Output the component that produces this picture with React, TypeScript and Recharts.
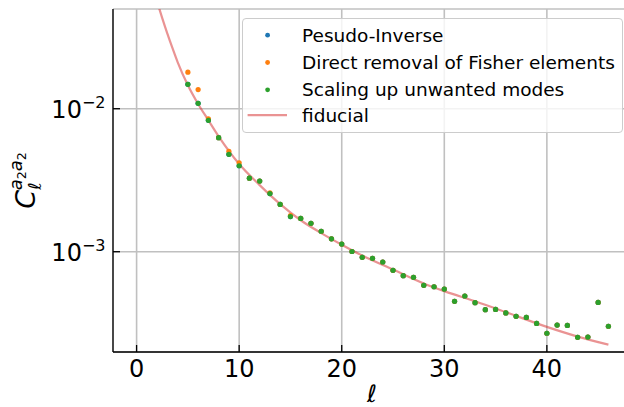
import React from 'react';
import { ComposedChart, Scatter, Line, XAxis, YAxis, CartesianGrid, Legend } from 'recharts';

const FONT = "'DejaVu Sans', sans-serif";

const ell = [5, 6, 7, 8, 9, 10, 11, 12, 13, 14, 15, 16, 17, 18, 19, 20, 21, 22, 23, 24, 25,
  26, 27, 28, 29, 30, 31, 32, 33, 34, 35, 36, 37, 38, 39, 40, 41, 42, 43, 44, 45, 46];

const scalingUp = [0.01482, 0.01091, 0.0083, 0.00627, 0.0048, 0.00399, 0.00327, 0.00312, 0.00255,
  0.00214, 0.00176, 0.00171, 0.00158, 0.00139, 0.00123, 0.00113, 0.001003, 0.000914, 0.000899,
  0.000847, 0.000741, 0.00068, 0.000662, 0.000582, 0.000569, 0.000548, 0.00045, 0.00049, 0.00044,
  0.000393, 0.000395, 0.000373, 0.000353, 0.000347, 0.000315, 0.000269, 0.000307, 0.000305,
  0.000252, 0.000253, 0.000442, 0.000301];

const pseudoInverse = [0.01482, 0.01091, 0.0083, 0.00627, 0.0048, 0.00399, 0.00327, 0.00312, 0.00255,
  0.00214, 0.00176, 0.00171, 0.00158, 0.00139, 0.00123, 0.00113, 0.001003, 0.000914, 0.000899,
  0.000847, 0.000741, 0.00068, 0.000662, 0.000582, 0.000569, 0.000548, 0.00045, 0.00049, 0.00044,
  0.000393, 0.000395, 0.000373, 0.000353, 0.000347, 0.000315, 0.000269, 0.000307, 0.000305,
  0.000252, 0.000253, 0.000442, 0.000301];

const directRemoval = [0.018, 0.0136, 0.00851, 0.00627, 0.00504, 0.00419, 0.00327, 0.00312, 0.00258,
  0.00214, 0.00179, 0.00171, 0.00158, 0.00139, 0.00123, 0.00113, 0.001003, 0.000914, 0.000899,
  0.000847, 0.000741, 0.00068, 0.000662, 0.000582, 0.000569, 0.000548, 0.00045, 0.00049, 0.00044,
  0.000393, 0.000395, 0.000373, 0.000353, 0.000347, 0.000315, 0.000269, 0.000307, 0.000305,
  0.000252, 0.000253, 0.000442, 0.000301];

const fiducialEll = [2, 2.5, 3, 3.5, 4, 5, 6, 7, 8, 10, 12, 14, 16, 18, 20, 22, 25, 28, 30, 33, 36, 40, 43, 46];
const fiducialCl = [0.056, 0.043, 0.0335, 0.0265, 0.0212, 0.0146, 0.0108, 0.0083, 0.0064, 0.0041,
  0.00292, 0.00215, 0.00166, 0.00135, 0.00112, 0.00094, 0.00075, 0.0006, 0.00053, 0.00045,
  0.000378, 0.000298, 0.000255, 0.000224];

const xTicks = [0, 10, 20, 30, 40];
const xDomain = [-2.3, 48.3];
const yMajorTicks = [0.001, 0.01];
const yMinorTicks = [0.0002, 0.0003, 0.0004, 0.0005, 0.0006, 0.0007, 0.0008, 0.0009,
  0.002, 0.003, 0.004, 0.005, 0.006, 0.007, 0.008, 0.009, 0.02, 0.03, 0.04];
const yDomain = [0.0001989, 0.04981];

const seriesNames = ['Pesudo-Inverse', 'Direct removal of Fisher elements', 'Scaling up unwanted modes', 'fiducial'];
const colors = ['#1f77b4', '#ff7f0e', '#2ca02c', '#d62728'];

const toPoints = (xs: number[], ys: number[]) => xs.map((x, i) => ({ x, y: ys[i] }));

const dot = (color: string) => (props: any) => (
  <circle cx={props.cx} cy={props.cy} r={2.6} fill={color} />
);

const XTick = (props: any) => {
  const { x, y, payload } = props;
  return (
    <text x={x} y={y} textAnchor="middle" fontFamily={FONT} fontSize={24} fill="#000">
      {payload.value}
    </text>
  );
};

const YTick = (props: any) => {
  const { x, y, payload } = props;
  const e = Math.round(Math.log10(payload.value));
  return (
    <text x={x} y={y} dy={9.5} textAnchor="end" fontFamily={FONT} fontSize={24} fill="#000">
      <tspan>10</tspan>
      <tspan fontSize={16} dy={-10}>{'\u2212' + Math.abs(e)}</tspan>
    </text>
  );
};

const Empty = () => <g />;

const YLabel = () => (
  <text transform="translate(35,180.5) rotate(-90)" textAnchor="middle" fontFamily={FONT} fill="#000">
    <tspan fontSize={27} fontStyle="italic">C</tspan>
    <tspan fontSize={18} fontStyle="italic" dy={6}>{'\u2113'}</tspan>
    <tspan fontSize={18} fontStyle="italic" dx={-8} dy={-19}>a</tspan>
    <tspan fontSize={12.5} dy={3.5}>2</tspan>
    <tspan fontSize={18} fontStyle="italic" dy={-3.5}>a</tspan>
    <tspan fontSize={12.5} dy={3.5}>2</tspan>
  </text>
);

const XLabel = () => (
  <text x={372} y={402} textAnchor="middle" fontFamily={FONT} fontSize={24} fontStyle="italic" fill="#000">
    {'\u2113'}
  </text>
);

const LegendBox = () => {
  const rows = [17.2, 44.5, 71.8, 97.2];
  return (
    <div style={{
      width: 381, height: 115, boxSizing: 'border-box', border: '1px solid #cccccc',
      borderRadius: 4, background: 'rgba(255,255,255,0.8)',
    }}>
      <svg width={381} height={115} style={{ position: 'absolute', left: 0, top: 0 }}>
        {rows.map((ry, i) => (
          <g key={i}>
            {i < 3 ? (
              <circle cx={25.6} cy={ry} r={2.4} fill={colors[i]} />
            ) : (
              <line x1={5.6} x2={45} y1={ry} y2={ry} stroke={colors[3]} strokeOpacity={0.5} strokeWidth={2.2} />
            )}
            <text x={60} y={ry + 6.5} fontFamily={FONT} fontSize={18.5} fill="#000">{seriesNames[i]}</text>
          </g>
        ))}
      </svg>
    </div>
  );
};

export default function App() {
  return (
    <div style={{ position: 'absolute', left: 0, top: 0, width: 624, height: 407, overflow: 'hidden', background: '#fff' }}>
      <ComposedChart width={660} height={407} margin={{ top: 9, right: 28, bottom: 0, left: 0 }}>
        <CartesianGrid xAxisId="b" yAxisId="m" stroke="#c0c0c0" strokeWidth={1.6} />
        <XAxis xAxisId="b" dataKey="x" type="number" domain={xDomain} ticks={xTicks} interval={0}
          allowDataOverflow height={55} tickSize={-7} tickMargin={31.7}
          axisLine={{ stroke: '#000', strokeWidth: 1.3 }} tickLine={{ stroke: '#000', strokeWidth: 1.3 }}
          tick={<XTick />} label={{ content: () => <XLabel /> }} />
        <XAxis xAxisId="t" orientation="top" dataKey="x" type="number" domain={xDomain} ticks={xTicks} interval={0}
          allowDataOverflow height={0} tickSize={-7}
          axisLine={{ stroke: '#000', strokeWidth: 1.3 }} tickLine={{ stroke: '#000', strokeWidth: 1.3 }}
          tick={<Empty />} />
        <YAxis yAxisId="m" scale="log" type="number" domain={yDomain} ticks={yMajorTicks} interval={0}
          allowDataOverflow width={113} tickSize={-7} tickMargin={14.5}
          axisLine={{ stroke: '#000', strokeWidth: 1.3 }} tickLine={{ stroke: '#000', strokeWidth: 1.3 }}
          tick={<YTick />} label={{ content: () => <YLabel /> }} />
        <YAxis yAxisId="n" scale="log" type="number" domain={yDomain} ticks={yMinorTicks} interval={0}
          allowDataOverflow width={0} tickSize={-7} axisLine={false}
          tickLine={{ stroke: '#000', strokeWidth: 1.1 }} tick={<Empty />} />
        <Scatter xAxisId="b" yAxisId="m" data={toPoints(ell, pseudoInverse)} dataKey="y" name={seriesNames[0]}
          fill={colors[0]} shape={dot(colors[0])} isAnimationActive={false} />
        <Scatter xAxisId="b" yAxisId="m" data={toPoints(ell, directRemoval)} dataKey="y" name={seriesNames[1]}
          fill={colors[1]} shape={dot(colors[1])} isAnimationActive={false} />
        <Scatter xAxisId="b" yAxisId="m" data={toPoints(ell, scalingUp)} dataKey="y" name={seriesNames[2]}
          fill={colors[2]} shape={dot(colors[2])} isAnimationActive={false} />
        <Line xAxisId="b" yAxisId="m" data={toPoints(fiducialEll, fiducialCl)} dataKey="y" name={seriesNames[3]}
          type="monotone" stroke={colors[3]} strokeOpacity={0.5} strokeWidth={2.2} dot={false}
          activeDot={false} isAnimationActive={false} />
        <Legend layout="vertical" align="center" verticalAlign="middle" content={() => <LegendBox />}
          wrapperStyle={{ position: 'absolute', left: 241.7, top: 17.5, width: 381, height: 115 }} />
      </ComposedChart>
    </div>
  );
}
